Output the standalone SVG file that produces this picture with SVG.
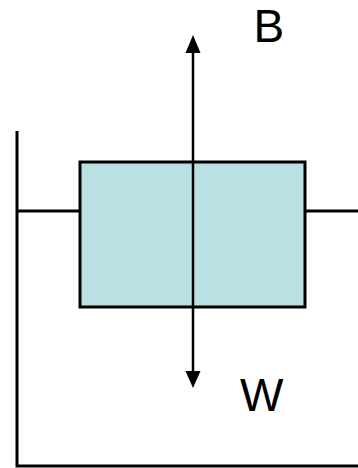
<svg xmlns="http://www.w3.org/2000/svg" width="358" height="468" viewBox="0 0 358 468">
  <style>
    .wall { stroke: #000; stroke-width: 3; fill: none; }
    .block { fill: #B9E0E3; stroke: #000; stroke-width: 3; }
    .force { stroke: #000; stroke-width: 2.5; fill: none; }
    .head { fill: #000; }
    .label { font-family: "Liberation Sans", Arial, sans-serif; font-size: 46px; fill: #000; }
  </style>
  <!-- tank: wall and floor -->
  <g id="tank">
    <polyline class="wall" points="17,131 17,466 358,466"/>
  </g>
  <!-- water surface on either side of the block -->
  <g id="water-surface">
    <line class="wall" x1="17" y1="211" x2="80" y2="211"/>
    <line class="wall" x1="305" y1="211" x2="358" y2="211"/>
  </g>
  <!-- floating block -->
  <g id="block">
    <rect class="block" x="80" y="162" width="225" height="145"/>
  </g>
  <!-- force arrows: buoyancy up, weight down -->
  <g id="connectors">
    <line class="force" x1="193" y1="52" x2="193" y2="372"/>
    <polygon class="head" points="193,35 185.5,53 200.5,53"/>
    <polygon class="head" points="193,388 185.5,371 200.5,371"/>
  </g>
  <g id="label-B">
    <text class="label" x="253.5" y="42">B</text>
  </g>
  <g id="label-W">
    <text class="label" x="240" y="411">W</text>
  </g>
</svg>
